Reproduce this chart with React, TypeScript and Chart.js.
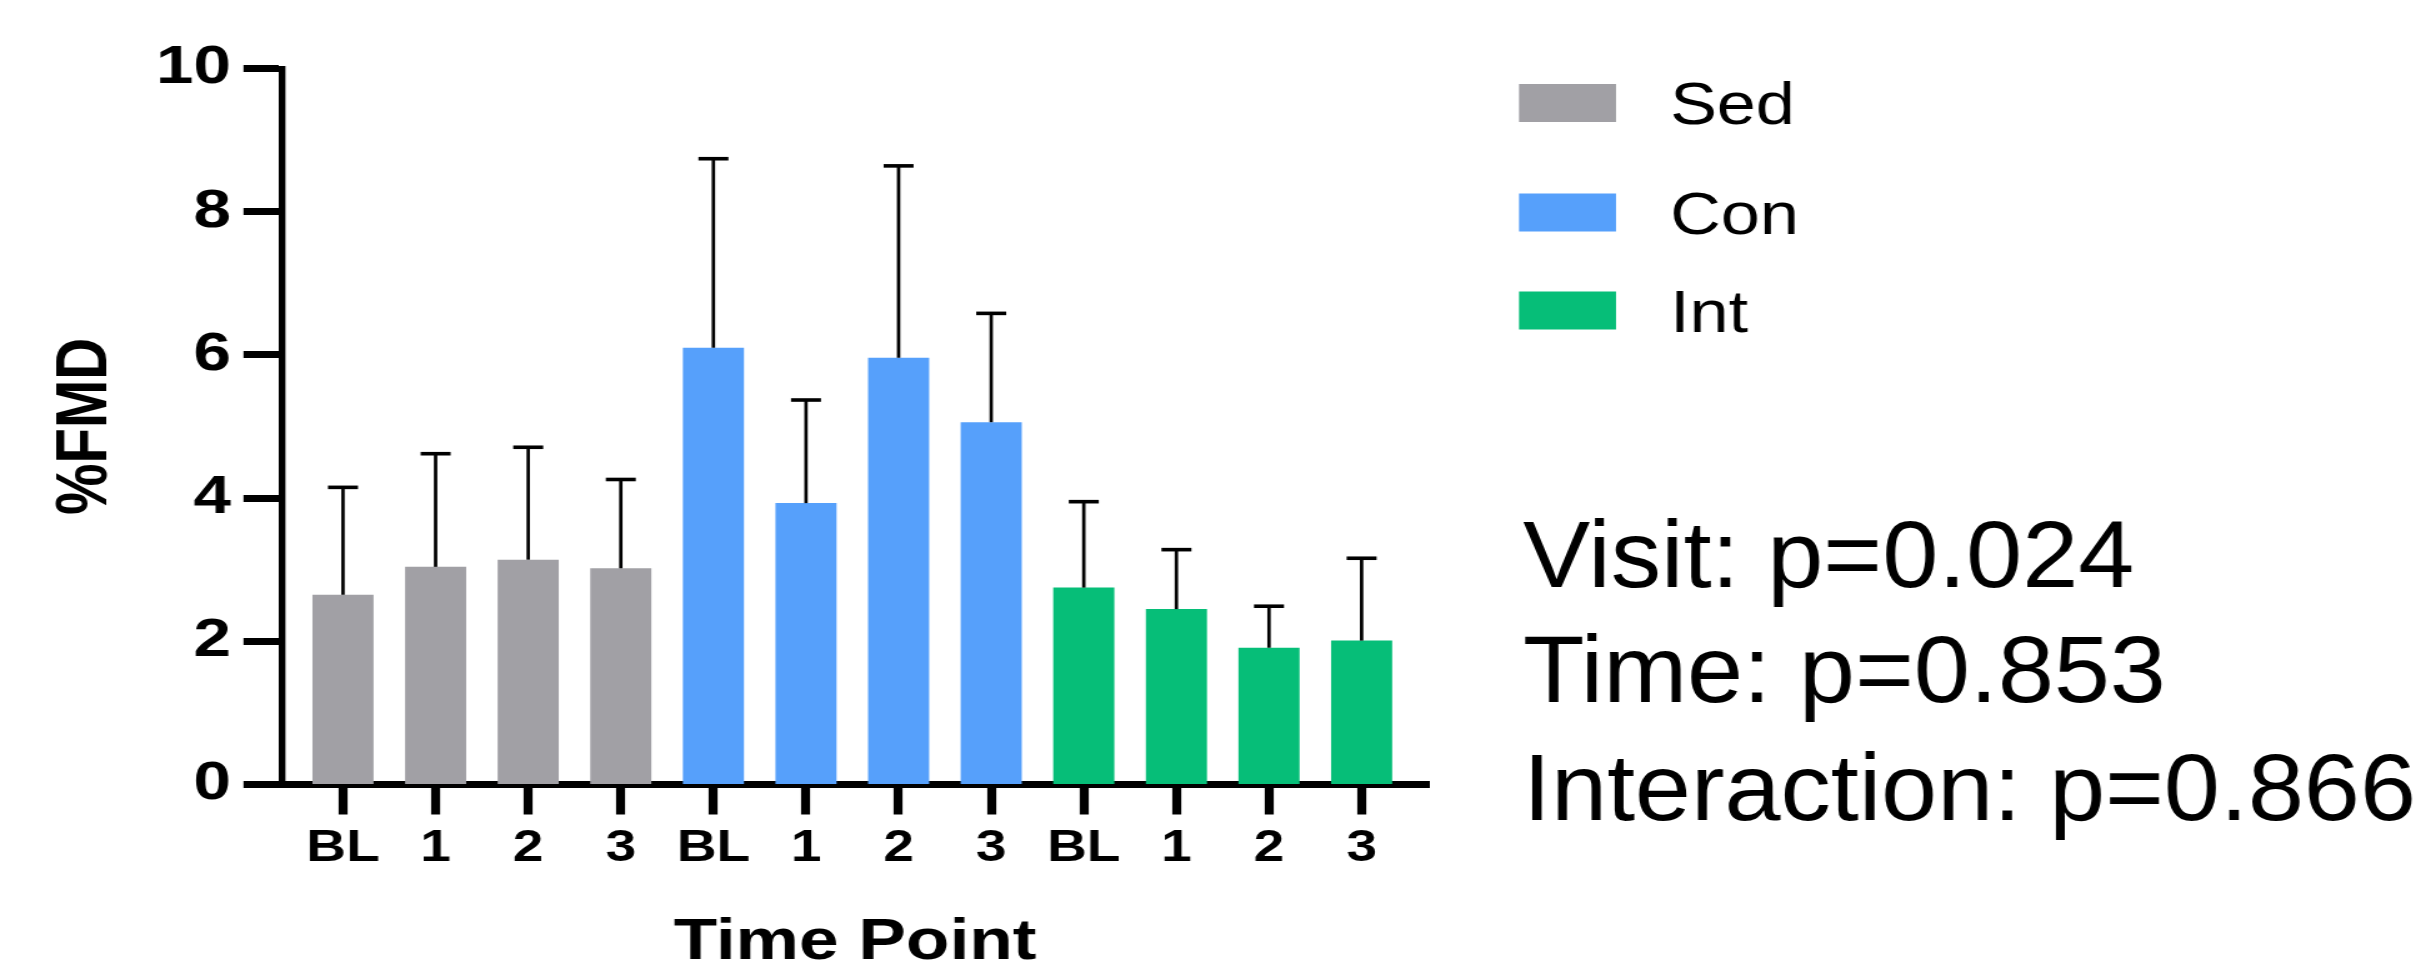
import React, { useEffect, useRef } from 'react';
import { Chart, registerables } from 'chart.js';

Chart.register(...registerables);

// ---------------- data ----------------
const groups = ['Sed', 'Con', 'Int'];
const timePoints = ['BL', '1', '2', '3'];

const sedMean = [2.65, 3.04, 3.14, 3.02];
const sedSD = [1.5, 1.58, 1.57, 1.24];
const conMean = [6.1, 3.93, 5.96, 5.06];
const conSD = [2.64, 1.44, 2.68, 1.52];
const intMean = [2.75, 2.45, 1.91, 2.01];
const intSD = [1.2, 0.83, 0.58, 1.15];

const groupColors = ['#a1a0a5', '#56a0fb', '#06be78'];

const yMin = 0;
const yMax = 10;
const yStep = 2;

const xTitle = 'Time Point';
const yTitle = '%FMD';
const statLines = ['Visit: p=0.024', 'Time: p=0.853', 'Interaction: p=0.866'];

const meansByGroup = [sedMean, conMean, intMean];
const sdByGroup = [sedSD, conSD, intSD];

// ---------------- layout ----------------
const W = 2436;
const H = 969;
const CW = 1949; // canvas drawn narrower, then stretched horizontally like the reference
const K = W / CW;
const FONT = '"Liberation Sans", Arial, Helvetica, sans-serif';

const AREA_LEFT = 281.5; // full-size px
const AREA_RIGHT = 1428.7;
const AREA_TOP = 68.5;
const AREA_BOTTOM = 784.5;
const FIRST_CENTER = 343;
const CAT_STEP = 92.6;

const X_MIN = -(FIRST_CENTER - AREA_LEFT) / CAT_STEP;
const X_MAX = X_MIN + (AREA_RIGHT - AREA_LEFT) / CAT_STEP;

const errorBarPlugin = {
  id: 'errorBars',
  afterDatasetsDraw(chart: any) {
    const ctx = chart.ctx;
    const ys = chart.scales.y;
    chart.data.datasets.forEach((_ds: any, di: number) => {
      const meta = chart.getDatasetMeta(di);
      meta.data.forEach((el: any, i: number) => {
        const mean = meansByGroup[di][i];
        const top = ys.getPixelForValue(mean + sdByGroup[di][i]);
        ctx.save();
        ctx.strokeStyle = '#000';
        ctx.lineCap = 'butt';
        ctx.lineWidth = 3.4 / K;
        ctx.beginPath();
        ctx.moveTo(el.x, el.y);
        ctx.lineTo(el.x, top);
        ctx.stroke();
        ctx.lineWidth = 3.6;
        ctx.beginPath();
        ctx.moveTo(el.x - 15 / K, top);
        ctx.lineTo(el.x + 15 / K, top);
        ctx.stroke();
        ctx.restore();
      });
    });
  },
};

const overlayPlugin = {
  id: 'overlayText',
  afterDraw(chart: any) {
    const ctx = chart.ctx;
    // legend
    const boxLeft = 1519;
    const boxW = 97;
    const boxH = 38;
    const legendCenters = [103, 212.5, 310.5];
    chart.data.datasets.forEach((ds: any, i: number) => {
      const cy = legendCenters[i];
      ctx.save();
      ctx.fillStyle = ds.backgroundColor;
      ctx.fillRect(boxLeft / K, cy - boxH / 2, boxW / K, boxH);
      ctx.translate(1670 / K, cy + 21);
      ctx.scale(1.17 / K, 1);
      ctx.fillStyle = '#000';
      ctx.font = `60px ${FONT}`;
      ctx.textBaseline = 'alphabetic';
      ctx.textAlign = 'left';
      ctx.fillText(ds.label, 0, 0);
      ctx.restore();
    });
    // statistics
    const baselines = [586.7, 701.7, 820];
    statLines.forEach((line, i) => {
      ctx.save();
      ctx.translate(1523 / K, baselines[i]);
      ctx.scale(1.06 / K, 1);
      ctx.fillStyle = '#000';
      ctx.font = `95px ${FONT}`;
      ctx.textBaseline = 'alphabetic';
      ctx.textAlign = 'left';
      ctx.fillText(line, 0, 0);
      ctx.restore();
    });
  },
};

export default function App() {
  const ref = useRef<HTMLCanvasElement | null>(null);

  useEffect(() => {
    if (!ref.current) return;
    const datasets = groups.map((g, gi) => ({
      label: g,
      data: meansByGroup[gi].map((v, ti) => ({ x: gi * timePoints.length + ti, y: v })),
      backgroundColor: groupColors[gi],
      borderWidth: 0,
      grouped: false,
      barPercentage: 0.66,
      categoryPercentage: 1,
    }));

    const chart = new Chart(ref.current, {
      type: 'bar',
      data: { datasets },
      options: {
        responsive: false,
        animation: false,
        devicePixelRatio: 1,
        layout: {
          padding: { left: 0, top: AREA_TOP, right: CW - AREA_RIGHT / K, bottom: 0 },
        },
        plugins: {
          legend: { display: false },
          tooltip: { enabled: false },
        },
        scales: {
          x: {
            type: 'linear',
            min: X_MIN,
            max: X_MAX,
            offset: false,
            z: 1,
            ticks: {
              stepSize: 1,
              includeBounds: false,
              autoSkip: false,
              maxRotation: 0,
              minRotation: 0,
              padding: 8,
              color: '#000',
              font: { family: FONT, size: 44, weight: 'bold' },
              callback: (value: any) => {
                const v = Number(value);
                return Number.isInteger(v) && v >= 0 && v < groups.length * timePoints.length
                  ? timePoints[v % timePoints.length]
                  : '';
              },
            },
            grid: {
              offset: false,
              drawOnChartArea: false,
              drawTicks: true,
              tickLength: 30,
              tickWidth: 9 / K,
              tickColor: '#000',
            },
            border: { display: true, color: '#000', width: 7 },
            title: {
              display: true,
              text: xTitle,
              color: '#000',
              font: { family: FONT, size: 57, weight: 'bold', lineHeight: 0.9 },
              padding: { top: 0, bottom: 0 },
            },
            afterFit: (s: any) => {
              s.height = H - AREA_BOTTOM;
            },
          },
          y: {
            min: yMin,
            max: yMax,
            z: 1,
            ticks: {
              stepSize: yStep,
              padding: 10,
              color: '#000',
              font: { family: FONT, size: 54, weight: 'bold' },
            },
            grid: {
              drawOnChartArea: false,
              drawTicks: true,
              tickLength: 38 / K,
              tickWidth: 7,
              tickColor: '#000',
            },
            border: { display: true, color: '#000', width: 6.7 / K },
            title: {
              display: true,
              text: yTitle,
              color: '#000',
              font: { family: FONT, size: 58, weight: 'bold', lineHeight: 1.2 },
              padding: { top: 34, bottom: 0 },
            },
            afterFit: (s: any) => {
              s.width = AREA_LEFT / K;
            },
          },
        },
      } as any,
      plugins: [errorBarPlugin, overlayPlugin],
    });
    return () => chart.destroy();
  }, []);

  return (
    <div
      style={{
        position: 'fixed',
        left: 0,
        top: 0,
        width: W,
        height: H,
        overflow: 'hidden',
        background: '#fff',
      }}
    >
      <canvas
        ref={ref}
        width={CW}
        height={H}
        style={{
          display: 'block',
          width: CW,
          height: H,
          transform: `scaleX(${K})`,
          transformOrigin: '0 0',
        }}
      />
    </div>
  );
}
